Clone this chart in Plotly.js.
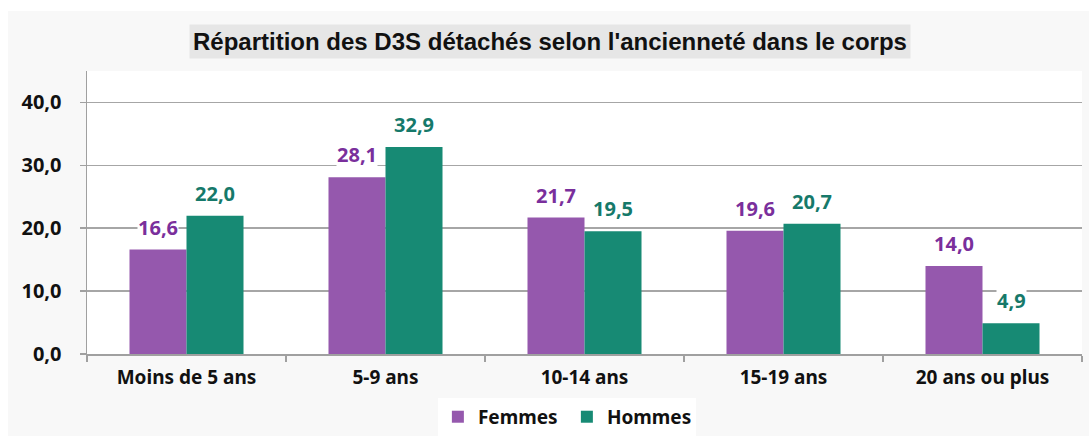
<!DOCTYPE html>
<html>
<head>
<meta charset="utf-8">
<script src="https://cdn.plot.ly/plotly-3.0.1.min.js"></script>
<style>
html,body{margin:0;padding:0;background:#ffffff;width:1089px;height:436px;overflow:hidden;}
#chart{position:absolute;left:8px;top:11px;width:1081px;height:425px;}
</style>
</head>
<body>
<div id="chart"></div>
<script>
const categories = ["Moins de 5 ans", "5-9 ans", "10-14 ans", "15-19 ans", "20 ans ou plus"];
const femmes = [16.6, 28.1, 21.7, 19.6, 14.0];
const hommes = [22.0, 32.9, 19.5, 20.7, 4.9];
const yTicks = [0, 10, 20, 30, 40];
const yTickLabels = ["0,0", "10,0", "20,0", "30,0", "40,0"];
const titleText = "Répartition des D3S détachés selon l'ancienneté dans le corps";

const purple = "#9558ad", purpleText = "#7a2f9c";
const teal = "#178a74", tealText = "#16796a";
const fontFam = "'Noto Sans', 'Open Sans', sans-serif";

const fmt = v => v.toFixed(1).replace(".", ",");

const traces = [
  {type: "bar", name: "Femmes", x: categories, y: femmes, marker: {color: purple}, hoverinfo: "skip"},
  {type: "bar", name: "Hommes", x: categories, y: hommes, marker: {color: teal}, hoverinfo: "skip"}
];

const annotations = [];
const series = [[femmes, purpleText, -28.5], [hommes, tealText, 28.5]];
series.forEach(([vals, col, shift]) => {
  vals.forEach((v, i) => {
    annotations.push({
      x: categories[i], y: v, xref: "x", yref: "y",
      text: fmt(v), showarrow: false, xshift: shift, yanchor: "bottom", yshift: 8,
      font: {family: fontFam, size: 20, color: col, weight: "bold"},
      bgcolor: "#ffffff", borderpad: 0
    });
  });
});
annotations.push({
  x: 0.4653, y: 1, xref: "paper", yref: "paper", xanchor: "center", yanchor: "bottom", yshift: 12,
  text: titleText, showarrow: false,
  font: {family: "'Liberation Sans', Arial, sans-serif", size: 24, color: "#111111", weight: "bold"},
  bgcolor: "#e6e6e6", borderpad: 3
});

const layout = {
  width: 1081, height: 425,
  paper_bgcolor: "#f8f8f8", plot_bgcolor: "#ffffff",
  margin: {l: 79, r: 7, t: 60, b: 82, autoexpand: false},
  barmode: "group", bargap: 0.427, bargroupgap: 0,
  showlegend: true,
  legend: {
    orientation: "h", x: 0.517, xanchor: "center", xref: "container",
    y: 0.045, yanchor: "middle", yref: "container",
    bgcolor: "#ffffff", font: {family: fontFam, size: 19, color: "#111111", weight: "bold"},
    itemwidth: 30, entrywidth: 84, entrywidthmode: "pixels", traceorder: "normal"
  },
  xaxis: {
    type: "category", showgrid: false, showline: true, linecolor: "#a0a0a0", linewidth: 1.5,
    ticks: "outside", tickson: "boundaries", ticklen: 6, tickcolor: "#a0a0a0", tickwidth: 1.5,
    tickfont: {family: fontFam, size: 19, color: "#111111", weight: "bold"},
    ticklabelstandoff: 6, fixedrange: true, automargin: false
  },
  yaxis: {
    range: [0, 45], tickvals: yTicks, ticktext: yTickLabels,
    showgrid: true, gridcolor: "#a6a6a6", gridwidth: 1.5,
    showline: true, linecolor: "#a0a0a0", linewidth: 1.5,
    ticks: "outside", ticklen: 6, tickcolor: "#a0a0a0", tickwidth: 1.5,
    zeroline: false,
    tickfont: {family: fontFam, size: 20, color: "#111111", weight: "bold"},
    ticklabelstandoff: 14, fixedrange: true, automargin: false
  },
  annotations: annotations,
  font: {family: fontFam}
};

Plotly.newPlot("chart", traces, layout, {displayModeBar: false, staticPlot: true});
</script>
</body>
</html>
